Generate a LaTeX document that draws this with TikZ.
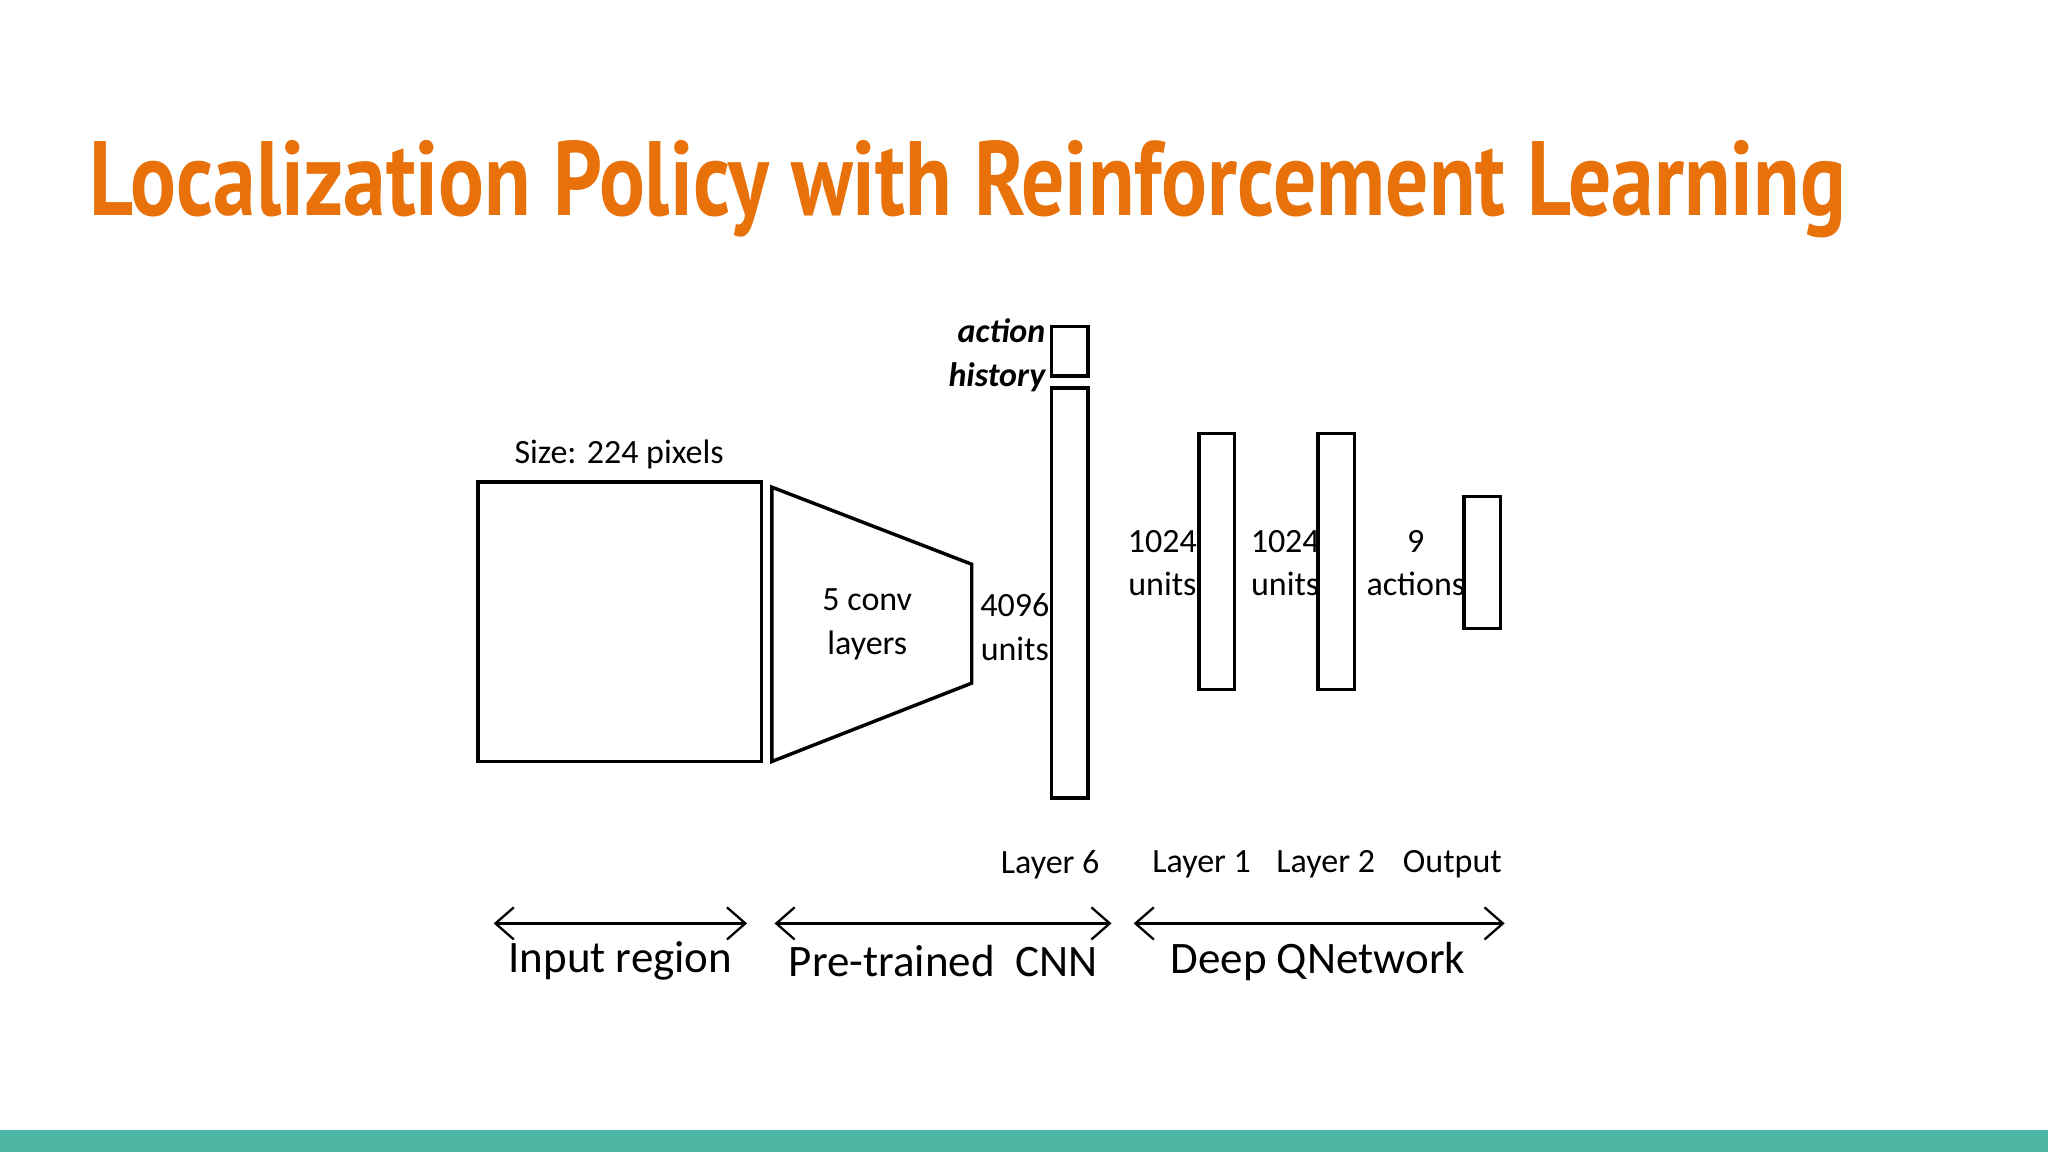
\documentclass[tikz,border=0pt]{standalone}
\usepackage{fontspec}
\setmainfont{Carlito}
\newfontfamily\titlefont{PT Sans}
\usetikzlibrary{arrows.meta}
\definecolor{ttl}{RGB}{232,113,10}
\definecolor{bar}{RGB}{77,182,165}
\begin{document}
\begin{tikzpicture}[x=0.01cm,y=-0.01cm,
  box/.style={draw,line width=0.75pt},
  lbl/.style={font=\fontsize{7.4}{9.5}\selectfont,align=center,inner sep=0},
  big/.style={font=\fontsize{9.8}{12}\selectfont,inner sep=0},
  span/.style={line width=0.5pt,{Straight Barb[length=4pt,width=7pt]}-{Straight Barb[length=4pt,width=7pt]}}]
\useasboundingbox (0,0) rectangle (1568,882);
\fill[white] (0,0) rectangle (1568,882);
\fill[bar] (0,865) rectangle (1568,882);
\node[anchor=base west,inner sep=0,text=ttl] (title) at (68,165)
  {\resizebox{13.44cm}{\height}{\titlefont\bfseries\fontsize{23}{26}\selectfont Localization Policy with Reinforcement Learning}};
\draw[box] (366,369) rectangle (583,583);
\draw[box] (591,373) -- (744,432) -- (744,523) -- (591,583) -- cycle;
\node[lbl] (size) at (474,348) {Size: 224 pixels};
\node[lbl] (conv) at (664,478) {5 conv\\layers};
\node[lbl] (u4096) at (777,480) {4096\\units};
\draw[box] (805,250) rectangle (833,288);
\node[lbl,anchor=east,align=right,font=\fontsize{7.4}{9.5}\selectfont\bfseries\itshape] (ah) at (801,272) {action\\history};
\draw[box] (805,297) rectangle (833,611);
\draw[box] (918,332) rectangle (945,528);
\draw[box] (1009,332) rectangle (1037,528);
\draw[box] (1121,380) rectangle (1149,481);
\node[lbl] (u1) at (890,431) {1024\\units};
\node[lbl] (u2) at (984,431) {1024\\units};
\node[lbl] (act) at (1084,431) {9\\actions};
\node[lbl] (l6) at (804,662) {Layer 6};
\node[lbl] (l1) at (920,662) {Layer 1};
\node[lbl] (l2) at (1015,662) {Layer 2};
\node[lbl] (out) at (1112,662) {Output};
\coordinate (a1) at (378,707); \coordinate (b1) at (572,707);
\coordinate (a2) at (593,707); \coordinate (b2) at (851,707);
\coordinate (a3) at (868,707); \coordinate (b3) at (1152,707);
\draw[span] (a1) -- (b1);
\draw[span] (a2) -- (b2);
\draw[span] (a3) -- (b3);
\node[big] (ir) at (475,736) {Input region};
\node[big] (cnn) at (722,736) {Pre-trained\ \ CNN};
\node[big] (dqn) at (1009,736) {Deep QNetwork};
\end{tikzpicture}
\end{document}
